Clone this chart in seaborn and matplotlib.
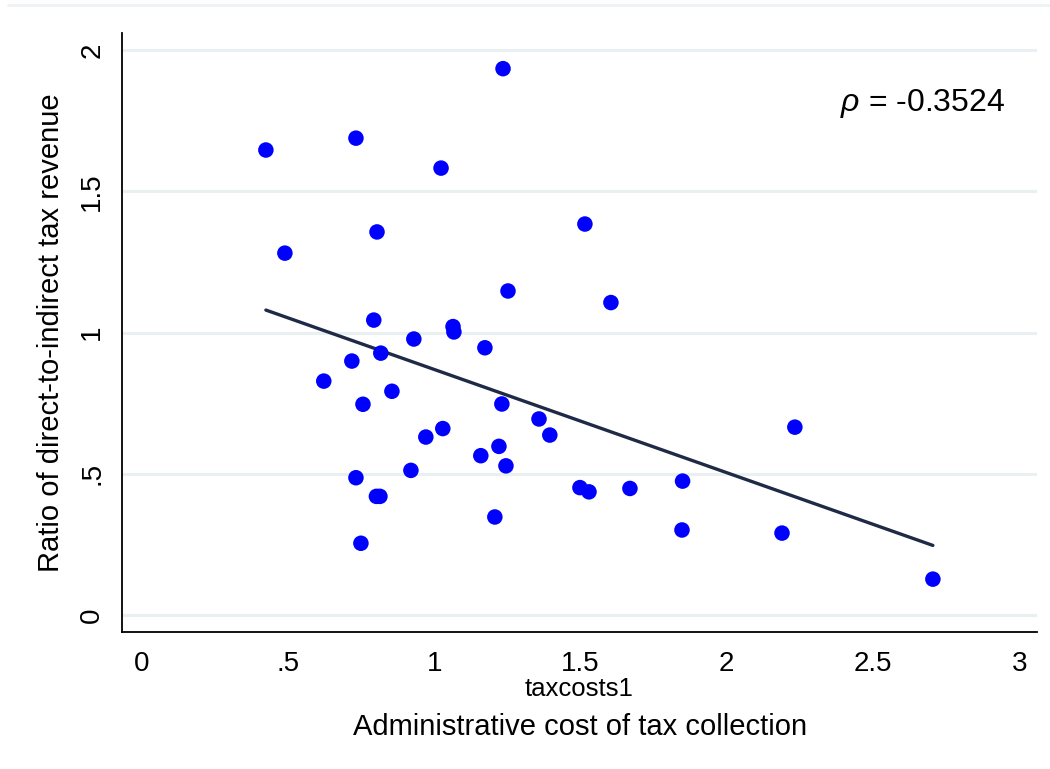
import numpy as np
import pandas as pd
import seaborn as sns
import matplotlib.pyplot as plt
from matplotlib.lines import Line2D

# valori (costo amministrativo vs rapporto imposte dirette/indirette)
taxcosts1 = [0.424, 0.489, 0.732, 0.804, 1.023, 1.235, 1.515, 1.604, 1.252, 0.793,
             0.930, 1.064, 1.067, 1.173, 0.718, 0.817, 0.622, 0.756, 0.855, 1.231,
             1.358, 1.395, 0.971, 1.029, 1.221, 1.159, 1.245, 0.920, 0.732, 0.802,
             0.814, 1.207, 0.749, 1.498, 1.529, 1.669, 1.849, 1.847, 2.233, 2.189,
             2.705]
ratio = [1.646, 1.281, 1.688, 1.356, 1.582, 1.934, 1.384, 1.106, 1.147, 1.044,
         0.977, 1.021, 1.002, 0.946, 0.899, 0.927, 0.828, 0.746, 0.792, 0.747,
         0.694, 0.637, 0.630, 0.660, 0.597, 0.564, 0.528, 0.512, 0.486, 0.420,
         0.420, 0.347, 0.254, 0.451, 0.436, 0.448, 0.474, 0.301, 0.665, 0.290,
         0.127]
rho_text = r"$\rho$ = -0.3524"

xticks = [0, 0.5, 1, 1.5, 2, 2.5, 3]
xticklabels = ["0", ".5", "1", "1.5", "2", "2.5", "3"]
yticks = [0, 0.5, 1, 1.5, 2]
yticklabels = ["0", ".5", "1", "1.5", "2"]

df = pd.DataFrame({"taxcosts1": taxcosts1, "ratio": ratio})

sns.set_style("white")
plt.rcParams["font.family"] = ["Liberation Sans", "DejaVu Sans"]
plt.rcParams["mathtext.fontset"] = "custom"
plt.rcParams["mathtext.it"] = "Liberation Sans:italic"
plt.rcParams["text.color"] = "black"
plt.rcParams["axes.labelcolor"] = "black"
plt.rcParams["xtick.color"] = "black"
plt.rcParams["ytick.color"] = "black"

fig = plt.figure(figsize=(10.5, 7.69), dpi=100)
ax = fig.add_axes([0.1162, 0.1782, 0.8714, 0.7788])

# griglia orizzontale chiara stile Stata
for yt in yticks:
    ax.axhline(yt, color="#e9f0f2", lw=2.2, zorder=0)

sns.regplot(data=df, x="taxcosts1", y="ratio", ci=None, ax=ax,
            scatter_kws=dict(s=125, color="#0000ff", edgecolor="none", alpha=1, zorder=3),
            line_kws=dict(color="#1e2a46", lw=2.4, zorder=2))

ax.set_xlim(-0.068, 3.061)
ax.set_ylim(-0.060, 2.060)
ax.set_xticks(xticks)
ax.set_xticklabels(xticklabels, fontsize=20)
ax.set_yticks(yticks)
ax.set_yticklabels(yticklabels, fontsize=20, rotation=90, va="center")
ax.tick_params(axis="x", length=10, width=1.2, color="#444444", labelcolor="black", pad=4)
ax.tick_params(axis="y", length=9, width=1.2, color="#444444", labelcolor="black", pad=3)

sns.despine(ax=ax, top=True, right=True)
ax.spines["left"].set_color("black")
ax.spines["bottom"].set_color("black")
ax.spines["left"].set_linewidth(1.3)
ax.spines["bottom"].set_linewidth(1.3)

ax.set_xlabel("taxcosts1", fontsize=18.5, labelpad=0)
ax.set_ylabel("Ratio of direct-to-indirect tax revenue", fontsize=21, labelpad=10)

ax.text(0.965, 0.883, rho_text, transform=ax.transAxes, ha="right", va="center", fontsize=23)

fig.text(580 / 1050, 1 - 727 / 769, "Administrative cost of tax collection",
         ha="center", va="center", fontsize=21)

# bordo superiore della regione del grafico
fig.add_artist(Line2D([8 / 1050, 1], [1 - 5 / 769, 1 - 5 / 769], color="#edf2f4", lw=2))

fig.savefig("out.png", dpi=100)
